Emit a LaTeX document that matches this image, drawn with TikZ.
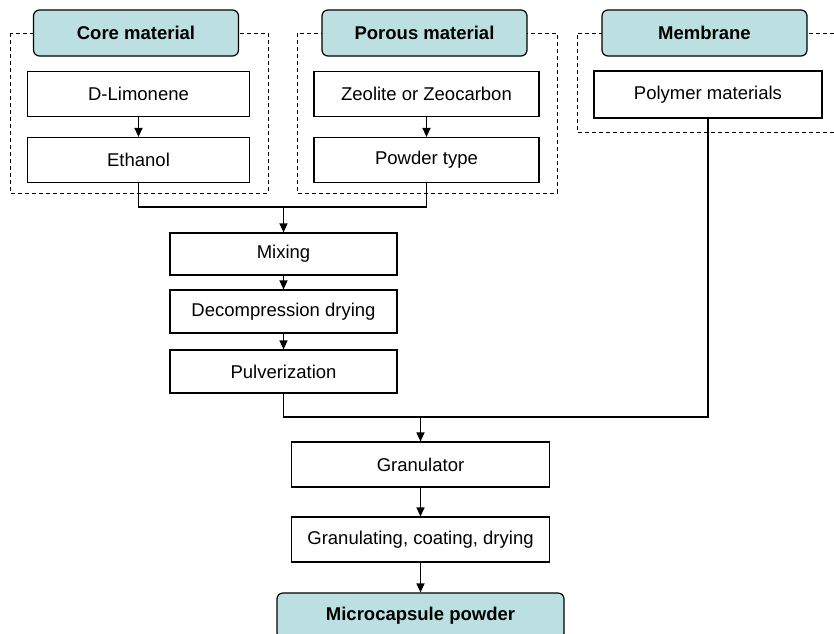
\documentclass[tikz,border=0pt]{standalone}
\usepackage{fontspec}
\setmainfont{Liberation Sans}
\usetikzlibrary{arrows.meta}
\definecolor{hdr}{RGB}{188,224,226}
\begin{document}
\begin{tikzpicture}[x=1pt,y=-1pt,
  every node/.style={font=\fontsize{18.5}{22}\selectfont, inner sep=0pt},
  procbox/.style={draw=black, line width=1.2pt, fill=white, minimum width=#1, minimum height=45pt},
  procbox/.default=225pt,
  hdrbox/.style={draw=black, line width=1.2pt, fill=hdr, rounded corners=6pt, minimum width=205pt, minimum height=46pt, font=\fontsize{18.5}{22}\selectfont\bfseries},
  grp/.style={draw=black, line width=1pt, dash pattern=on 4pt off 3pt},
  conn/.style={draw=black, line width=1.2pt},
  arr/.style={conn, -{Triangle[length=9pt,width=8pt]}}
]
\useasboundingbox (0,0) rectangle (834,633);
% groups
\draw[grp] (10,33) rectangle (268,193);
\draw[grp] (297,33) rectangle (557,193);
\draw[grp] (834,33) -- (577,33) -- (577,132) -- (834,132);
% headers
\node[hdrbox] (core) at (136,33) {Core material};
\node[hdrbox] (por) at (424.5,33) {Porous material};
\node[hdrbox] (mem) at (704.5,33) {Membrane};
% inputs
\node[procbox=222pt] (lim) at (138.5,94) {D-Limonene};
\node[procbox=222pt] (eth) at (138.5,160) {Ethanol};
\node[procbox=225pt] (zeo) at (426.5,94) {Zeolite or Zeocarbon};
\node[procbox=225pt] (pow) at (426.5,160) {Powder type};
\node[procbox=228pt, minimum height=47pt] (poly) at (708,94.5) {Polymer materials};
% process
\node[procbox=227pt, minimum height=42pt] (mix) at (283.5,254) {Mixing};
\node[procbox=227pt, minimum height=43pt] (dec) at (283.5,311.5) {Decompression drying};
\node[procbox=227pt, minimum height=43pt] (pul) at (283.5,371.5) {Pulverization};
\node[procbox=258pt] (gran) at (420.5,464.5) {Granulator};
\node[procbox=258pt] (gcd) at (420.5,539.5) {Granulating, coating, drying};
\node[hdrbox, minimum width=287pt, minimum height=46pt] (micro) at (420.5,616) {Microcapsule powder};
% junctions
\coordinate (j1) at (283.5,207);
\coordinate (j2) at (420.5,417);
% connectors
\draw[arr] (lim) -- (eth);
\draw[arr] (zeo) -- (pow);
\draw[conn] (eth.south) |- (j1) -| (pow.south);
\draw[arr] (j1) -- (mix.north);
\draw[arr] (mix) -- (dec);
\draw[arr] (dec) -- (pul);
\draw[conn] (pul.south) |- (j2);
\draw[conn] (poly.south) |- (j2);
\draw[arr] (j2) -- (gran.north);
\draw[arr] (gran) -- (gcd);
\draw[arr] (gcd) -- (micro);
\end{tikzpicture}
\end{document}
